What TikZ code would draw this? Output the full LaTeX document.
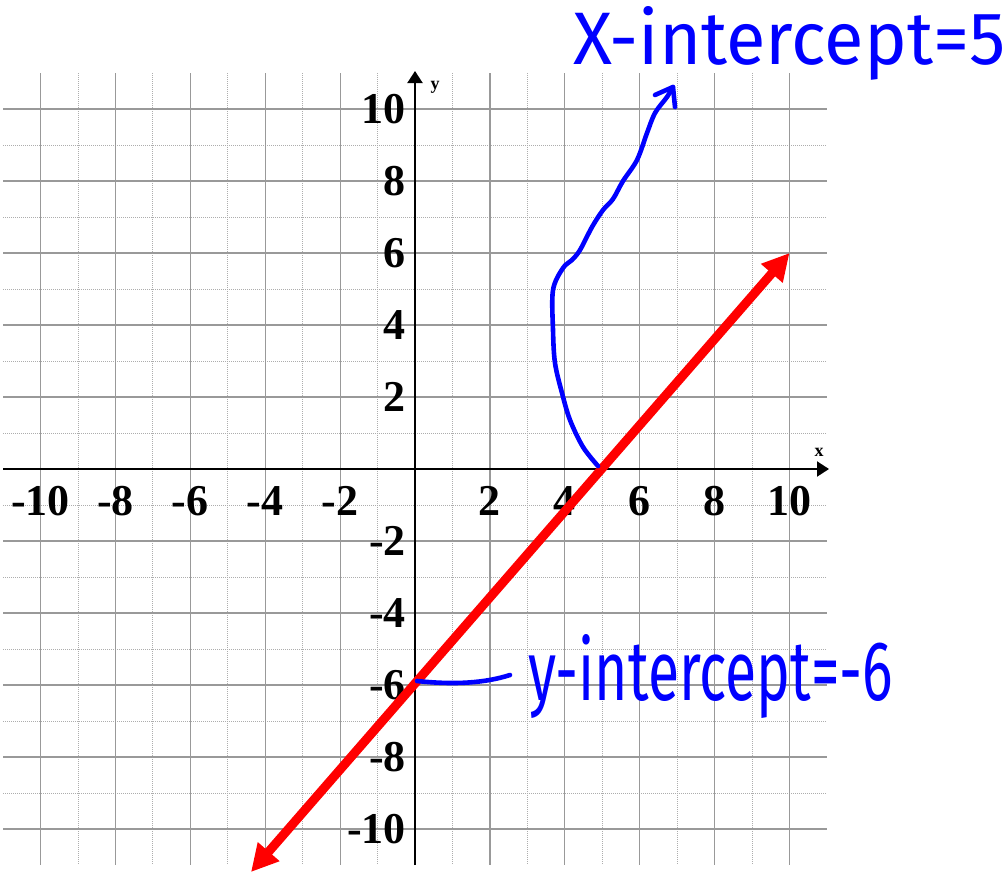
\documentclass[tikz,border=0pt]{standalone}
\usepackage{graphicx}
\usepackage{fontspec}
\setmainfont{Liberation Serif}
\newfontfamily\handfont{Fira Sans}
\usetikzlibrary{arrows.meta}
\tikzset{
  gridmajor/.style={draw=black!40, line width=1.2pt},
  gridminor/.style={draw=black!32, line width=0.9pt, dash pattern=on 1pt off 1pt},
  axisline/.style={draw=black, line width=2pt, -{Triangle[length=12pt,width=15pt]}},
  ticklab/.style={font=\bfseries\fontsize{44}{44}\selectfont, inner sep=0pt},
  axisname/.style={font=\bfseries\fontsize{18}{18}\selectfont, inner sep=0pt},
  redline/.style={draw=red, line width=9pt, {Triangle[length=27pt,width=27pt]}-{Triangle[length=27pt,width=27pt]}},
  pen/.style={draw=blue, line width=4.6pt, line cap=round, line join=round},
  hand/.style={text=blue, inner sep=0pt, font=\handfont},
}
\begin{document}
\begin{tikzpicture}[x=1pt, y=-1pt]
\useasboundingbox (0,0) rectangle (1007,871);
\fill[white] (0,0) rectangle (1007,871);
% grid
\foreach \i in {-9,-7,...,9} {
  \draw[gridminor] ({415+37.45*\i},73) -- ({415+37.45*\i},865);
  \draw[gridminor] (3,{469-36*\i}) -- (827,{469-36*\i});
}
\foreach \i in {-10,-8,...,10} {
  \draw[gridmajor] ({415+37.45*\i},73) -- ({415+37.45*\i},865);
  \draw[gridmajor] (3,{469-36*\i}) -- (827,{469-36*\i});
}
% axes
\coordinate (xl) at (3,469);
\coordinate (xr) at (829,469);
\coordinate (yb) at (415,865);
\coordinate (yt) at (415,71);
\draw[axisline] (xl) -- (xr);
\draw[axisline] (yb) -- (yt);
\node[axisname] (xname) at (819,452) {x};
\node[axisname] (yname) at (435,87) {y};
% tick labels
\foreach \i in {-10,-8,-6,-4,-2,2,4,6,8,10} {
  \node[ticklab] (xlab\i) at ({415+37.45*\i},501) {\i};
  \node[ticklab, anchor=east] (ylab\i) at (406,{469-36*\i}) {\i};
}
% red line
\coordinate (rA) at (251,872);
\coordinate (rB) at (789.5,253);
\draw[redline] (rA) -- (rB);
% blue annotations
\coordinate (xint) at (598,466);
\coordinate (xtip) at (673,87);
\draw[pen] plot[smooth, tension=0.55] coordinates {(xint) (583,447) (570,420) (562,393) (555,363) (553,330) (553,290) (563,268) (572,260) (580,250) (592,227) (603,210) (613,199) (623,181) (637,160) (647,133) (655,113) (667,97) (xtip)};
\draw[pen] (655,95) -- (xtip) -- (675,107);
\node[hand, anchor=base west] (xtext) at (573,64) {\resizebox{432pt}{58pt}{X-intercept=5}};
\coordinate (yint) at (417,681);
\coordinate (yend) at (510,675);
\draw[pen] (yint) .. controls (455,685) and (485,683) .. (yend);
\node[hand, anchor=base west] (ytext) at (528,700) {\resizebox{365pt}{66pt}{y-intercept=-6}};
\end{tikzpicture}
\end{document}
